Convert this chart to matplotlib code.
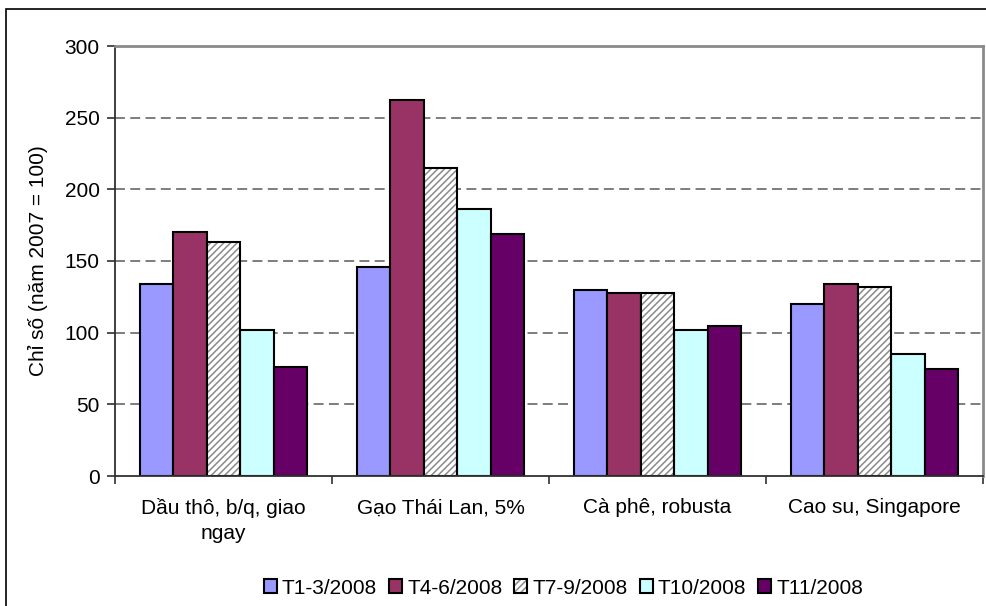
import matplotlib
matplotlib.use("Agg")
import matplotlib.pyplot as plt
import numpy as np
from matplotlib.patches import Patch, Rectangle
from matplotlib.legend_handler import HandlerTuple

plt.rcParams['font.family'] = ['Liberation Sans', 'DejaVu Sans']
plt.rcParams['hatch.linewidth'] = 1.1

categories = ["Dầu thô, b/q, giao\nngay", "Gạo Thái Lan, 5%", "Cà phê, robusta", "Cao su, Singapore"]
series_names = ["T1-3/2008", "T4-6/2008", "T7-9/2008", "T10/2008", "T11/2008"]
t1_3 = [134, 146, 130, 120]
t4_6 = [170, 262, 128, 134]
t7_9 = [163, 215, 128, 132]
t10 = [102, 186, 102, 85]
t11 = [76, 169, 105, 75]
series_values = [t1_3, t4_6, t7_9, t10, t11]
colors = ["#9999FF", "#993366", None, "#CCFFFF", "#660066"]
yticks = [0, 50, 100, 150, 200, 250, 300]

W, H = 986, 606
fig = plt.figure(figsize=(W / 100, H / 100), dpi=100)
ax = fig.add_axes([115 / W, 1 - 476 / H, (983 - 115) / W, (476 - 46) / H])

HATCH = '/////'
HATCH_COLOR = '#8a8a8a'

x = np.arange(len(categories))
bw = 1 / 6.5
handles = []
for i, (name, vals, col) in enumerate(zip(series_names, series_values, colors)):
    pos = x + (i - 2) * bw
    if col is None:
        ax.bar(pos, vals, bw, color='white', edgecolor=HATCH_COLOR, linewidth=0,
               hatch=HATCH, zorder=3)
        ax.bar(pos, vals, bw, fill=False, edgecolor='black', linewidth=1.5, zorder=4)
        h = (Patch(facecolor='white', edgecolor=HATCH_COLOR, hatch=HATCH, linewidth=0),
             Patch(fill=False, edgecolor='black', linewidth=1.5))
    else:
        ax.bar(pos, vals, bw, color=col, edgecolor='black', linewidth=1.5, zorder=3)
        h = Patch(facecolor=col, edgecolor='black', linewidth=1.5)
    handles.append(h)

ax.set_xlim(-0.5, 3.5)
ax.set_ylim(0, 300)
ax.set_yticks(yticks)
ax.set_yticklabels([str(v) for v in yticks])
for yv in yticks[1:-1]:
    ax.axhline(yv, color='#5a5a5a', lw=1.1, dashes=(6.5, 3.5), zorder=1)

ax.set_xticks(np.arange(-0.5, 4.0, 1.0))
ax.set_xticklabels([])
ax.set_xticks(x, minor=True)
ax.set_xticklabels(categories, minor=True, fontsize=15, linespacing=1.4)
ax.tick_params(axis='x', which='major', length=6, width=1.2, color='#303030', direction='out')
ax.tick_params(axis='x', which='minor', length=0, pad=16)
ax.tick_params(axis='y', length=5.5, width=1.2, color='#303030', direction='out', pad=5.5, labelsize=15)

for s in ['top', 'right']:
    ax.spines[s].set_color('#8a8a8a')
    ax.spines[s].set_linewidth(2)
for s in ['left', 'bottom']:
    ax.spines[s].set_color('#303030')
    ax.spines[s].set_linewidth(1.3)
ax.spines['bottom'].set_zorder(5)

ax.set_ylabel("Chỉ số (năm 2007 = 100)", fontsize=15)
ax.yaxis.set_label_coords(-0.077, 0.5)

leg = fig.legend(handles, series_names, loc='center', bbox_to_anchor=(563.5 / W, 1 - 588 / H),
                 ncol=5, frameon=False, fontsize=15, handlelength=0.62, handleheight=0.62,
                 handletextpad=0.24, columnspacing=0.58, borderaxespad=0, borderpad=0,
                 handler_map={tuple: HandlerTuple(ndivide=1, pad=0)})

fig.patches.append(Rectangle((6 / W, -0.1), 1.2, 1 - 9 / H + 0.1, transform=fig.transFigure,
                             fill=False, edgecolor='black', linewidth=1.2, clip_on=False))

fig.savefig("out.png", dpi=100)
